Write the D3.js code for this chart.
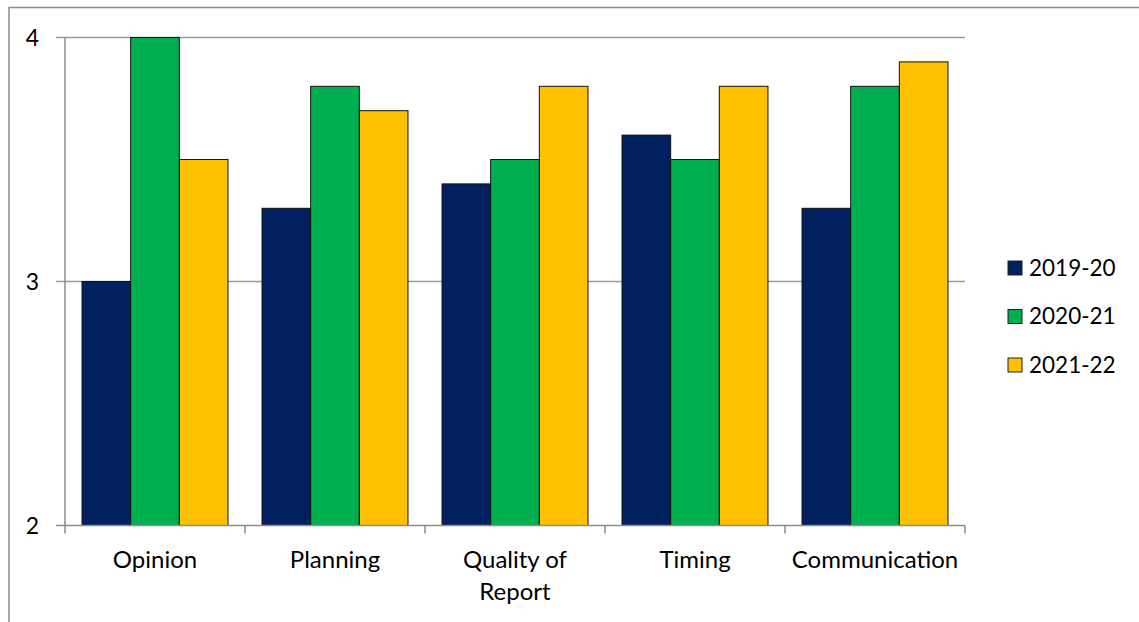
<!DOCTYPE html>
<html>
<head>
<meta charset="utf-8">
<script src="https://cdn.jsdelivr.net/npm/d3@7"></script>
<style>
  body { margin: 0; background: #fff; }
  svg { display: block; font-family: Lato, "Open Sans", sans-serif; }
</style>
</head>
<body>
<div id="chart"></div>
<script>
// data
const categories = ["Opinion", "Planning", "Quality of Report", "Timing", "Communication"];
const seriesNames = ["2019-20", "2020-21", "2021-22"];
const values2019 = [3.0, 3.3, 3.4, 3.6, 3.3];
const values2020 = [4.0, 3.8, 3.5, 3.5, 3.8];
const values2021 = [3.5, 3.7, 3.8, 3.8, 3.9];
const yTicks = [2, 3, 4];
const colors = ["#002060", "#00B050", "#FFC000"];

const allSeries = [values2019, values2020, values2021];

const W = 1139, H = 622;
const plot = { left: 65, right: 965, top: 37.5, bottom: 525.5 };

const svg = d3.select("#chart").append("svg")
    .attr("width", W)
    .attr("height", H);

// outer chart frame (extends past right/bottom edge in the reference)
svg.append("rect")
    .attr("x", 9).attr("y", 7.5)
    .attr("width", W + 20).attr("height", H + 20)
    .attr("fill", "none")
    .attr("stroke", "#8c8c8c")
    .attr("stroke-width", 1.5);

const x = d3.scaleBand()
    .domain(categories)
    .range([plot.left, plot.right])
    .paddingInner(0)
    .paddingOuter(0);

const inner = d3.scaleBand()
    .domain(seriesNames)
    .range([0, x.bandwidth()])
    .paddingOuter(0.35)
    .paddingInner(0);

const y = d3.scaleLinear()
    .domain([2, 4])
    .range([plot.bottom, plot.top]);

// gridlines
svg.append("g")
    .selectAll("line")
    .data(yTicks.filter(d => d !== 2))
    .join("line")
    .attr("x1", plot.left - 9)
    .attr("x2", plot.right)
    .attr("y1", d => y(d))
    .attr("y2", d => y(d))
    .attr("stroke", "#9a9a9a")
    .attr("stroke-width", 1.5);

// bars
const groups = svg.append("g")
    .selectAll("g")
    .data(allSeries)
    .join("g")
    .attr("fill", (d, i) => colors[i]);

groups.each(function(vals, si) {
    d3.select(this).selectAll("rect")
        .data(vals)
        .join("rect")
        .attr("x", (v, ci) => x(categories[ci]) + inner(seriesNames[si]))
        .attr("y", v => y(v))
        .attr("width", inner.bandwidth())
        .attr("height", v => y(2) - y(v))
        .attr("stroke", "#111")
        .attr("stroke-width", 1);
});

// y axis
svg.append("line")
    .attr("x1", plot.left).attr("x2", plot.left)
    .attr("y1", plot.top).attr("y2", plot.bottom)
    .attr("stroke", "#8c8c8c").attr("stroke-width", 1.5);

svg.append("g")
    .selectAll("line")
    .data([2])
    .join("line")
    .attr("x1", plot.left - 9).attr("x2", plot.left)
    .attr("y1", d => y(d)).attr("y2", d => y(d))
    .attr("stroke", "#8c8c8c").attr("stroke-width", 1.5);

svg.append("g")
    .selectAll("text")
    .data(yTicks)
    .join("text")
    .attr("x", 39)
    .attr("y", d => y(d))
    .attr("dy", "0.35em")
    .attr("text-anchor", "end")
    .attr("font-size", 23)
    .attr("fill", "#000")
    .text(d => d);

// x axis
svg.append("line")
    .attr("x1", plot.left).attr("x2", plot.right)
    .attr("y1", plot.bottom).attr("y2", plot.bottom)
    .attr("stroke", "#8c8c8c").attr("stroke-width", 1.5);

const boundaries = categories.map(c => x(c)).concat([plot.right]);
svg.append("g")
    .selectAll("line")
    .data(boundaries)
    .join("line")
    .attr("x1", d => d).attr("x2", d => d)
    .attr("y1", plot.bottom).attr("y2", plot.bottom + 8)
    .attr("stroke", "#8c8c8c").attr("stroke-width", 1.5);

// category labels, wrapped like Excel
const labelLines = { "Quality of Report": ["Quality of", "Report"] };
svg.append("g")
    .selectAll("text")
    .data(categories)
    .join("text")
    .attr("x", d => x(d) + x.bandwidth() / 2)
    .attr("y", 568)
    .attr("text-anchor", "middle")
    .attr("font-size", 24)
    .attr("fill", "#000")
    .each(function(d) {
        const lines = labelLines[d] || [d];
        d3.select(this).selectAll("tspan")
            .data(lines)
            .join("tspan")
            .attr("x", x(d) + x.bandwidth() / 2)
            .attr("dy", (l, i) => i === 0 ? 0 : 32)
            .text(l => l);
    });

// legend
const legend = svg.append("g")
    .selectAll("g")
    .data(seriesNames)
    .join("g")
    .attr("transform", (d, i) => `translate(1008, ${268 + i * 48.5})`);

legend.append("rect")
    .attr("x", 0).attr("y", -7)
    .attr("width", 14).attr("height", 14)
    .attr("fill", (d, i) => colors[i])
    .attr("stroke", "#222")
    .attr("stroke-width", 1);

legend.append("text")
    .attr("x", 21)
    .attr("dy", "0.35em")
    .attr("font-size", 22.5)
    .attr("fill", "#000")
    .text(d => d);
</script>
</body>
</html>
